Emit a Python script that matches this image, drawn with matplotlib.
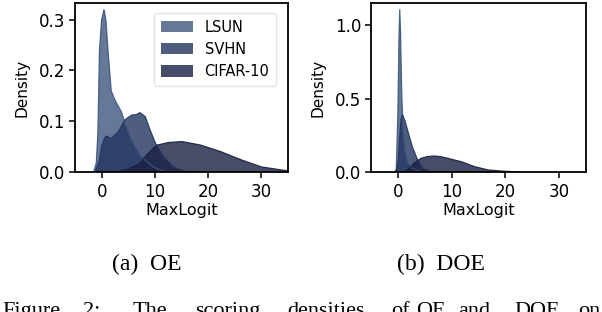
import matplotlib
matplotlib.use("Agg")
import matplotlib.pyplot as plt

# ---- data (MaxLogit score densities) ----
labels = ["LSUN", "SVHN", "CIFAR-10"]
colors = ["#3e567e", "#233460", "#192042"]

# (a) OE
oe_lsun_x = [-1.5, -1.0, -0.7, -0.4, 0.0, 0.45, 0.8, 1.2, 1.8, 2.5, 3.0, 3.7, 4.4, 5.6, 7.2, 8.5, 9.7, 11.0, 12.5]
oe_lsun_y = [0.0, 0.018, 0.077, 0.24, 0.30, 0.32, 0.30, 0.24, 0.16, 0.142, 0.132, 0.119, 0.096, 0.063, 0.034, 0.02, 0.01, 0.004, 0.0]
oe_svhn_x = [-1.2, -0.4, 0.0, 0.5, 0.9, 1.8, 3.1, 4.4, 5.6, 6.5, 7.2, 8.2, 9.1, 10.1, 11.6, 13.5, 16.0]
oe_svhn_y = [0.0, 0.024, 0.05, 0.066, 0.071, 0.066, 0.079, 0.103, 0.112, 0.113, 0.117, 0.109, 0.083, 0.057, 0.03, 0.01, 0.0]
oe_cifar_x = [3.0, 5.0, 7.2, 8.5, 9.7, 10.4, 12.5, 15.1, 18.6, 22.4, 26.2, 30.0, 33.8, 36.0]
oe_cifar_y = [0.0, 0.006, 0.017, 0.034, 0.047, 0.053, 0.058, 0.06, 0.053, 0.04, 0.024, 0.01, 0.004, 0.001]

# (b) DOE
doe_lsun_x = [-0.6, -0.3, 0.0, 0.2, 0.35, 0.5, 0.7, 0.95, 1.3, 1.8, 2.5, 3.5, 5.0]
doe_lsun_y = [0.0, 0.02, 0.4, 0.9, 1.105, 0.95, 0.56, 0.3, 0.15, 0.07, 0.03, 0.01, 0.0]
doe_svhn_x = [-0.3, 0.1, 0.37, 0.6, 0.88, 1.3, 1.8, 2.7, 3.7, 4.6, 6.0, 7.5]
doe_svhn_y = [0.0, 0.08, 0.26, 0.36, 0.39, 0.35, 0.285, 0.17, 0.08, 0.025, 0.005, 0.0]
doe_cifar_x = [1.0, 2.0, 3.0, 4.3, 5.5, 6.8, 8.0, 9.3, 11.8, 14.3, 16.8, 19.8, 23.0]
doe_cifar_y = [0.0, 0.02, 0.06, 0.093, 0.105, 0.109, 0.104, 0.093, 0.07, 0.036, 0.014, 0.005, 0.0]

plt.rcParams["font.family"] = ["DejaVu Sans"]
plt.rcParams["font.size"] = 11.5

fig = plt.figure(figsize=(6.02, 3.12), dpi=100)
ax1 = fig.add_axes([75 / 602, 1 - 172 / 312, 213 / 602, 169 / 312])
ax2 = fig.add_axes([371 / 602, 1 - 172 / 312, 215 / 602, 169 / 312])


def draw(ax, curves, ylim, yticks):
    for (x, y), c, lab in zip(curves, colors, labels):
        ax.fill_between(x, y, 0, facecolor=c, alpha=0.8, edgecolor="none", label=lab)
        ax.plot(x, y, color=c, lw=0.9, alpha=0.9)
    ax.set_xlim(-5, 35)
    ax.set_ylim(*ylim)
    ax.set_xticks([0, 10, 20, 30])
    ax.set_yticks(yticks)
    ax.set_xlabel("MaxLogit", labelpad=1, fontsize=11.5)
    ax.set_ylabel("Density", labelpad=7, fontsize=11)
    for s in ax.spines.values():
        s.set_linewidth(1.3)
    ax.tick_params(length=4, width=1.1, pad=3, labelsize=12)
    ax.tick_params(axis="x", pad=4)


draw(ax1, [(oe_lsun_x, oe_lsun_y), (oe_svhn_x, oe_svhn_y), (oe_cifar_x, oe_cifar_y)],
     (0, 0.333), [0.0, 0.1, 0.2, 0.3])
draw(ax2, [(doe_lsun_x, doe_lsun_y), (doe_svhn_x, doe_svhn_y), (doe_cifar_x, doe_cifar_y)],
     (0, 1.15), [0.0, 0.5, 1.0])

leg = ax1.legend(loc="upper right", bbox_to_anchor=(1 - 12 / 213, 1 - 10 / 169), borderaxespad=0,
                 fontsize=10.5, handlelength=2.2, handleheight=0.8, labelspacing=0.5,
                 borderpad=0.45, fancybox=True, framealpha=0.8)
leg.get_frame().set_edgecolor("#dddddd")

serif = ["Liberation Serif", "DejaVu Serif"]
fig.text(147 / 602, 1 - 264 / 312, "(a)  OE", ha="center", va="center", fontsize=17, family=serif)
fig.text(441 / 602, 1 - 264 / 312, "(b)  DOE", ha="center", va="center", fontsize=17, family=serif)

# last caption line, cut off at the bottom like the reference
words = [("Figure", 2), ("2:", 83), ("The", 133), ("scoring", 195), ("densities", 287),
         ("of", 391), ("OE", 416), ("and", 458), ("DOE", 514), ("on", 578)]
for w, x in words:
    fig.text(x / 602, 1 - 316 / 312, w, ha="left", va="baseline", fontsize=16, family=serif)

fig.savefig("out.png", dpi=100)
